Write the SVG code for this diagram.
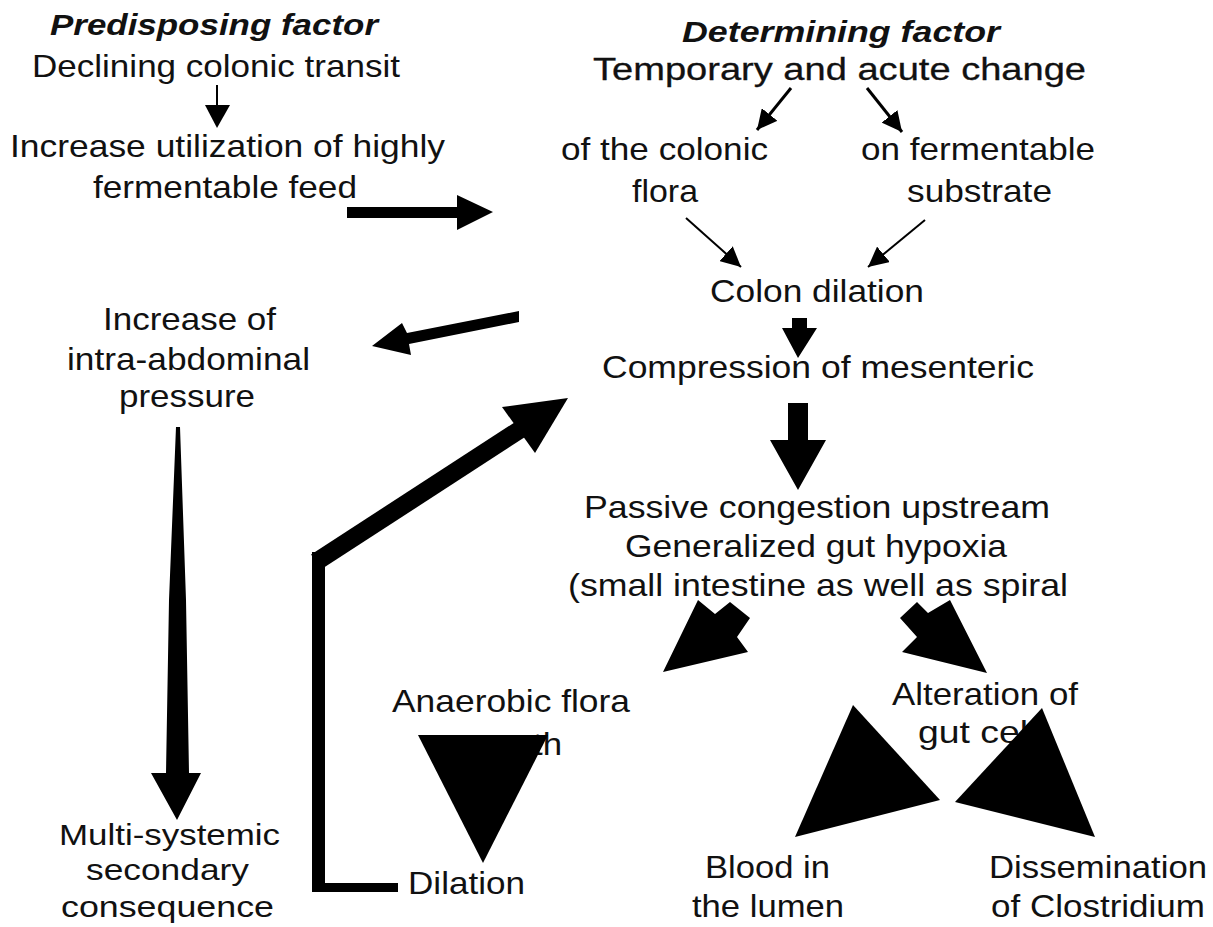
<svg xmlns="http://www.w3.org/2000/svg" width="1213" height="927" viewBox="0 0 1213 927">
<style>
text{font-family:"Liberation Sans",Arial,sans-serif;font-size:32px;fill:#111;}
.h{font-weight:bold;font-style:italic;font-size:29px;}
.s{font-size:30px;}
.fill{fill:#000;}
.thin{stroke:#000;stroke-width:2;fill:none;}
.mid{stroke:#000;stroke-width:3;fill:none;}
</style>
<defs>
<marker id="ah" markerUnits="userSpaceOnUse" viewBox="0 0 20 20" refX="20" refY="10" markerWidth="20" markerHeight="20" orient="auto">
<path d="M0,0 L20,10 L0,20 z" fill="#000"/>
</marker>
</defs>
<rect width="1213" height="927" fill="#fff"/>
<g id="n-predisposing"><text class="h" x="50" y="35" textLength="328" lengthAdjust="spacingAndGlyphs">Predisposing factor</text></g>
<g id="n-declining"><text x="32" y="77" textLength="368" lengthAdjust="spacingAndGlyphs">Declining colonic transit</text></g>
<g id="n-increase-util"><text x="10" y="157" textLength="435" lengthAdjust="spacingAndGlyphs">Increase utilization of highly</text><text x="93" y="198" textLength="264" lengthAdjust="spacingAndGlyphs">fermentable feed</text></g>
<g id="n-determining"><text class="h" x="682" y="42" textLength="318" lengthAdjust="spacingAndGlyphs">Determining factor</text></g>
<g id="n-temporary"><text x="593" y="80" textLength="493" lengthAdjust="spacingAndGlyphs" style="stroke:#111;stroke-width:0.3">Temporary and acute change</text></g>
<g id="n-flora"><text x="561" y="160" textLength="207" lengthAdjust="spacingAndGlyphs">of the colonic</text><text x="632" y="202" textLength="66" lengthAdjust="spacingAndGlyphs">flora</text></g>
<g id="n-substrate"><text x="861" y="160" textLength="234" lengthAdjust="spacingAndGlyphs">on fermentable</text><text x="907" y="202" textLength="145" lengthAdjust="spacingAndGlyphs">substrate</text></g>
<g id="n-colon"><text x="710" y="302" textLength="214" lengthAdjust="spacingAndGlyphs">Colon dilation</text></g>
<g id="n-compression"><text x="602" y="378" textLength="432" lengthAdjust="spacingAndGlyphs">Compression of mesenteric</text></g>
<g id="n-passive"><text x="584" y="518" textLength="466" lengthAdjust="spacingAndGlyphs">Passive congestion upstream</text><text x="625" y="557" textLength="382" lengthAdjust="spacingAndGlyphs">Generalized gut hypoxia</text><text x="568" y="596" textLength="500" lengthAdjust="spacingAndGlyphs">(small intestine as well as spiral</text></g>
<g id="n-pressure"><text x="103" y="330" textLength="173" lengthAdjust="spacingAndGlyphs">Increase of</text><text x="67" y="370" textLength="243" lengthAdjust="spacingAndGlyphs">intra-abdominal</text><text x="119" y="407" textLength="136" lengthAdjust="spacingAndGlyphs">pressure</text></g>
<g id="n-multi"><text class="s" x="59" y="845" textLength="221" lengthAdjust="spacingAndGlyphs">Multi-systemic</text><text class="s" x="86" y="880" textLength="163" lengthAdjust="spacingAndGlyphs">secondary</text><text class="s" x="61" y="917" textLength="213" lengthAdjust="spacingAndGlyphs">consequence</text></g>
<g id="n-anaerobic"><text x="392" y="712" textLength="238" lengthAdjust="spacingAndGlyphs">Anaerobic flora</text><text x="533" y="755" textLength="29" lengthAdjust="spacingAndGlyphs">th</text></g>
<g id="n-dilation"><text x="408" y="894" textLength="117" lengthAdjust="spacingAndGlyphs">Dilation</text></g>
<g id="n-alteration"><text x="892" y="705" textLength="186" lengthAdjust="spacingAndGlyphs">Alteration of</text><text x="918" y="743" textLength="110" lengthAdjust="spacingAndGlyphs">gut cel</text></g>
<g id="n-blood"><text x="705" y="878" textLength="125" lengthAdjust="spacingAndGlyphs">Blood in</text><text x="692" y="917" textLength="152" lengthAdjust="spacingAndGlyphs">the lumen</text></g>
<g id="n-dissemination"><text x="989" y="878" textLength="218" lengthAdjust="spacingAndGlyphs">Dissemination</text><text x="991" y="917" textLength="214" lengthAdjust="spacingAndGlyphs">of Clostridium</text></g>
<g id="connectors">
<line class="thin" x1="217" y1="85" x2="217" y2="106"/>
<polygon class="fill" points="205,105 230,105 217,128"/>
<polygon class="fill" points="347,207 457,207 457,195 493,212 457,230 457,218 347,218"/>
<line class="mid" x1="791" y1="88" x2="757" y2="130" marker-end="url(#ah)"/>
<line class="mid" x1="867" y1="88" x2="902" y2="132" marker-end="url(#ah)"/>
<line class="thin" x1="686" y1="218" x2="741" y2="267" marker-end="url(#ah)"/>
<line class="thin" x1="925" y1="220" x2="868" y2="267" marker-end="url(#ah)"/>
<polygon class="fill" points="792,318 807,318 807,328 817,328 798,358 782,328 792,328"/>
<polygon class="fill" points="788,403 808,403 808,440 826,440 798,490 770,440 788,440"/>
<polygon class="fill" points="519,311 519,322 409,344 411,355 372,346 402,323 407,333"/>
<rect class="fill" x="312" y="552" width="13" height="340"/>
<rect class="fill" x="312" y="883" width="86" height="9"/>
<line x1="316" y1="562" x2="524" y2="427" stroke="#000" stroke-width="18"/>
<polygon class="fill" points="568,398 502,407 535,453"/>
<polygon class="fill" points="176,427 180,427 186,600 189,773 201,773 177,820 151,773 166,773 169,600"/>
<polygon class="fill" points="698,600 715,614 730,602 750,618 737,637 748,652 663,672"/>
<polygon class="fill" points="900,618 917,602 928,613 950,600 987,673 902,652 917,637"/>
<polygon class="fill" points="418,735 548,735 483,863"/>
<polygon class="fill" points="853,705 940,800 795,837"/>
<polygon class="fill" points="1042,708 955,802 1095,837"/>
</g>
</svg>
